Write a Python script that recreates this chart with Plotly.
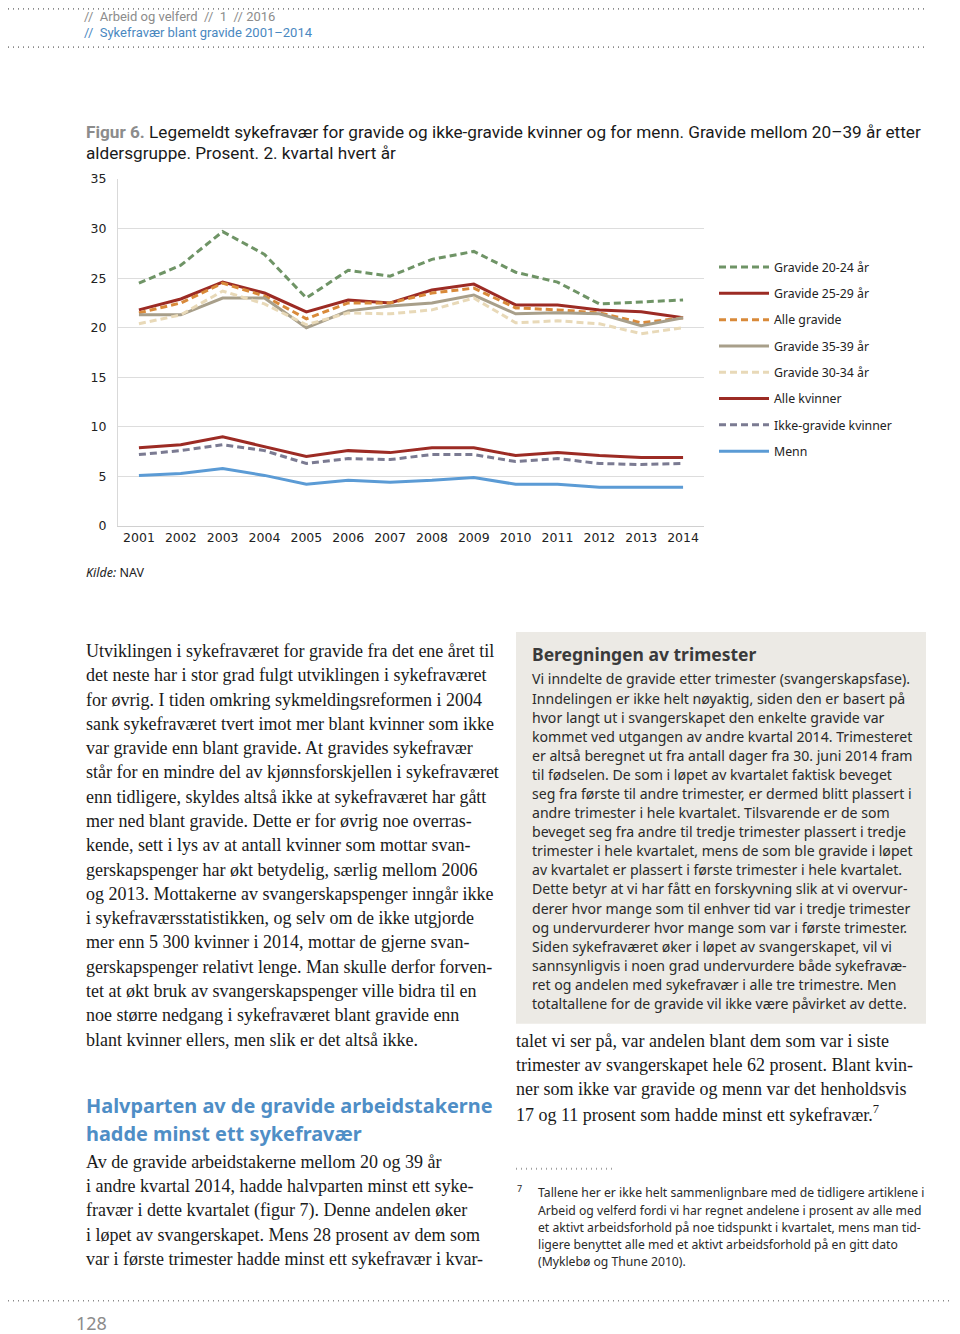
import plotly.graph_objects as go

# Figure size; positions below are given in page pixels of the reference and mapped
W, H = 944, 1334
X_OFF = 8
Y_OFF = 7
Y_SCALE = 0.989

years = list(range(2001, 2015))
tick_labels = [str(y) for y in years]
y_ticks = [0, 5, 10, 15, 20, 25, 30, 35]

series_names = ["Gravide 20-24 år", "Gravide 25-29 år", "Alle gravide", "Gravide 35-39 år",
                "Gravide 30-34 år", "Alle kvinner", "Ikke-gravide kvinner", "Menn"]

gravide_20_24 = [24.5, 26.3, 29.7, 27.4, 23.0, 25.8, 25.2, 26.9, 27.7, 25.6, 24.6, 22.4, 22.6, 22.8]
gravide_25_29 = [21.8, 22.9, 24.6, 23.5, 21.6, 22.8, 22.5, 23.8, 24.4, 22.3, 22.3, 21.8, 21.6, 21.0]
alle_gravide = [21.5, 22.5, 24.5, 23.2, 20.9, 22.5, 22.5, 23.5, 24.0, 22.0, 21.8, 21.5, 20.5, 21.0]
gravide_35_39 = [21.3, 21.3, 23.0, 23.0, 20.0, 21.7, 22.2, 22.5, 23.3, 21.4, 21.5, 21.4, 20.2, 21.0]
gravide_30_34 = [20.4, 21.3, 23.7, 22.4, 20.3, 21.5, 21.4, 21.8, 23.0, 20.5, 20.7, 20.4, 19.4, 20.0]
alle_kvinner = [7.9, 8.2, 9.0, 8.0, 7.0, 7.6, 7.4, 7.9, 7.9, 7.1, 7.4, 7.1, 6.9, 6.9]
ikke_gravide = [7.2, 7.6, 8.2, 7.6, 6.3, 6.8, 6.7, 7.2, 7.2, 6.5, 6.8, 6.3, 6.2, 6.3]
menn = [5.1, 5.3, 5.8, 5.1, 4.2, 4.6, 4.4, 4.6, 4.9, 4.2, 4.2, 3.9, 3.9, 3.9]

series_values = [gravide_20_24, gravide_25_29, alle_gravide, gravide_35_39,
                 gravide_30_34, alle_kvinner, ikke_gravide, menn]
series_colors = ["#6F9466", "#9C2B24", "#D98A3A", "#A89F8A", "#E8D9B8", "#9C2B24", "#7B7B92", "#5B9BD5"]
series_dash = ["7px,4px", "solid", "7px,4px", "solid", "7px,4px", "solid", "7px,4px", "solid"]

fig = go.Figure()
for i, (name, vals) in enumerate(zip(series_names, series_values)):
    fig.add_trace(go.Scatter(
        x=years, y=vals, name=name, mode="lines", legendgroup=f"g{i}",
        line=dict(color=series_colors[i], width=3, dash=series_dash[i]),
    ))

def px(x):
    return (x - X_OFF) / W

def py(y):
    fy = (y - Y_OFF) / Y_SCALE - X_OFF
    return 1 - fy / H

COND = "Roboto, sans-serif"
SANS = "Noto Sans, sans-serif"
SERIF = "Liberation Serif, Times New Roman, serif"
TICK = "DejaVu Sans, Verdana, sans-serif"

fig.update_layout(
    width=W, height=H,
    margin=dict(l=0, r=0, t=0, b=0),
    paper_bgcolor="white", plot_bgcolor="white",
    showlegend=True,
    legend=dict(x=px(714), y=py(251.5), xanchor="left", yanchor="top",
                font=dict(family=SANS, size=12.3, color="#222"),
                tracegroupgap=7.3, bgcolor="rgba(0,0,0,0)", itemwidth=50),
    xaxis=dict(domain=[px(118), px(704)], range=[2000.5, 2014.5],
               tickvals=years, ticktext=tick_labels, showgrid=False,
               showline=True, linecolor="#D0D0D0", linewidth=1, ticks="",
               tickfont=dict(family=TICK, size=12.5, color="#222")),
    yaxis=dict(domain=[py(525), py(178)], range=[0, 35], tickvals=y_ticks,
               showgrid=True, gridcolor="#DDDDDD", gridwidth=1, zeroline=False,
               showline=True, linecolor="#D9D9D9", linewidth=1, ticks="",
               ticklabelstandoff=8,
               tickfont=dict(family=TICK, size=12.5, color="#222")),
)

annotations = []

def text(x, y, s, size, color="#222", family=SERIF, anchor="left"):
    annotations.append(dict(x=px(x - 2), y=py(y), xref="paper", yref="paper", text=s,
                            showarrow=False, xanchor=anchor, yanchor="middle",
                            font=dict(family=family, size=size, color=color)))

# Header
text(84, 15, "//  Arbeid og velferd  //  1  // 2016", 13, "#8C8C8C", COND)
text(84, 31, "//  Sykefravær blant gravide 2001–2014", 13, "#4A88BF", COND)

# Figure title
text(86, 131, "<b><span style='color:#8C8C8C'>Figur 6.</span></b> Legemeldt sykefravær for gravide og ikke-gravide kvinner og for menn. Gravide mellom 20–39 år etter", 17.2, "#1A1A1A", COND)
text(86, 152, "aldersgruppe. Prosent. 2. kvartal hvert år", 17.2, "#1A1A1A", COND)

# Source
text(86, 572, "<i>Kilde:</i> NAV", 12.5, "#222", SANS)

left_lines = [
    "Utviklingen i sykefraværet for gravide fra det ene året til",
    "det neste har i stor grad fulgt utviklingen i sykefraværet",
    "for øvrig. I tiden omkring sykmeldingsreformen i 2004",
    "sank sykefraværet tvert imot mer blant kvinner som ikke",
    "var gravide enn blant gravide. At gravides sykefravær",
    "står for en mindre del av kjønnsforskjellen i sykefraværet",
    "enn tidligere, skyldes altså ikke at sykefraværet har gått",
    "mer ned blant gravide. Dette er for øvrig noe overras-",
    "kende, sett i lys av at antall kvinner som mottar svan-",
    "gerskapspenger har økt betydelig, særlig mellom 2006",
    "og 2013. Mottakerne av svangerskapspenger inngår ikke",
    "i sykefraværsstatistikken, og selv om de ikke utgjorde",
    "mer enn 5 300 kvinner i 2014, mottar de gjerne svan-",
    "gerskapspenger relativt lenge. Man skulle derfor forven-",
    "tet at økt bruk av svangerskapspenger ville bidra til en",
    "noe større nedgang i sykefraværet blant gravide enn",
    "blant kvinner ellers, men slik er det altså ikke.",
]
for i, s in enumerate(left_lines):
    text(86, 650 + i * 24.3, s, 18, "#1A1A1A", SERIF)

text(86, 1105, "<b>Halvparten av de gravide arbeidstakerne</b>", 19.9, "#4F8EC6", SANS)
text(86, 1133, "<b>hadde minst ett sykefravær</b>", 19.9, "#4F8EC6", SANS)

left2 = [
    "Av de gravide arbeidstakerne mellom 20 og 39 år",
    "i andre kvartal 2014, hadde halvparten minst ett syke-",
    "fravær i dette kvartalet (figur 7). Denne andelen øker",
    "i løpet av svangerskapet. Mens 28 prosent av dem som",
    "var i første trimester hadde minst ett sykefravær i kvar-",
]
for i, s in enumerate(left2):
    text(86, 1161 + i * 24.3, s, 18, "#1A1A1A", SERIF)

# Sidebar box
fig.add_shape(type="rect", xref="paper", yref="paper", x0=px(516), x1=px(926), y0=py(1023), y1=py(631),
              fillcolor="#ECEAE5", line=dict(width=0), layer="below")
text(532, 653, "<b>Beregningen av trimester</b>", 17.5, "#3A3A3A", SANS)
side_lines = [
    "Vi inndelte de gravide etter trimester (svangerskapsfase).",
    "Inndelingen er ikke helt nøyaktig, siden den er basert på",
    "hvor langt ut i svangerskapet den enkelte gravide var",
    "kommet ved utgangen av andre kvartal 2014. Trimesteret",
    "er altså beregnet ut fra antall dager fra 30. juni 2014 fram",
    "til fødselen. De som i løpet av kvartalet faktisk beveget",
    "seg fra første til andre trimester, er dermed blitt plassert i",
    "andre trimester i hele kvartalet. Tilsvarende er de som",
    "beveget seg fra andre til tredje trimester plassert i tredje",
    "trimester i hele kvartalet, mens de som ble gravide i løpet",
    "av kvartalet er plassert i første trimester i hele kvartalet.",
    "Dette betyr at vi har fått en forskyvning slik at vi overvur-",
    "derer hvor mange som til enhver tid var i tredje trimester",
    "og undervurderer hvor mange som var i første trimester.",
    "Siden sykefraværet øker i løpet av svangerskapet, vil vi",
    "sannsynligvis i noen grad undervurdere både sykefravæ-",
    "ret og andelen med sykefravær i alle tre trimestre. Men",
    "totaltallene for de gravide vil ikke være påvirket av dette.",
]
for i, s in enumerate(side_lines):
    text(532, 678 + i * 19.1, s, 14.1, "#2A2A2A", SANS)

right_lines = [
    "talet vi ser på, var andelen blant dem som var i siste",
    "trimester av svangerskapet hele 62 prosent. Blant kvin-",
    "ner som ikke var gravide og menn var det henholdsvis",
    "17 og 11 prosent som hadde minst ett sykefravær.<sup>7</sup>",
]
for i, s in enumerate(right_lines):
    text(516, 1040 + i * 24.2, s, 18, "#1A1A1A", SERIF)

# Footnote
text(517, 1188, "7", 9, "#2A2A2A", SANS)
foot_lines = [
    "Tallene her er ikke helt sammenlignbare med de tidligere artiklene i",
    "Arbeid og velferd fordi vi har regnet andelene i prosent av alle med",
    "et aktivt arbeidsforhold på noe tidspunkt i kvartalet, mens man tid-",
    "ligere benyttet alle med et aktivt arbeidsforhold på en gitt dato",
    "(Myklebø og Thune 2010).",
]
for i, s in enumerate(foot_lines):
    text(538, 1192 + i * 17.3, s, 12.2, "#2A2A2A", SANS)

# Page number
text(76, 1322, "128", 18, "#8C8C8C", SANS)

fig.update_layout(annotations=annotations)

# Dotted rules
def dotted(x0, x1, y, color="#8A8A8A", width=1.6):
    fig.add_shape(type="line", xref="paper", yref="paper", x0=px(x0), x1=px(x1), y0=py(y), y1=py(y),
                  line=dict(color=color, width=width, dash="1px,4px"))

dotted(8, 926, 7.8)
dotted(8, 926, 46)
dotted(8, 952, 1300)
dotted(516, 614, 1168, "#A0A0A0", 2)

fig.write_html("out.html")
